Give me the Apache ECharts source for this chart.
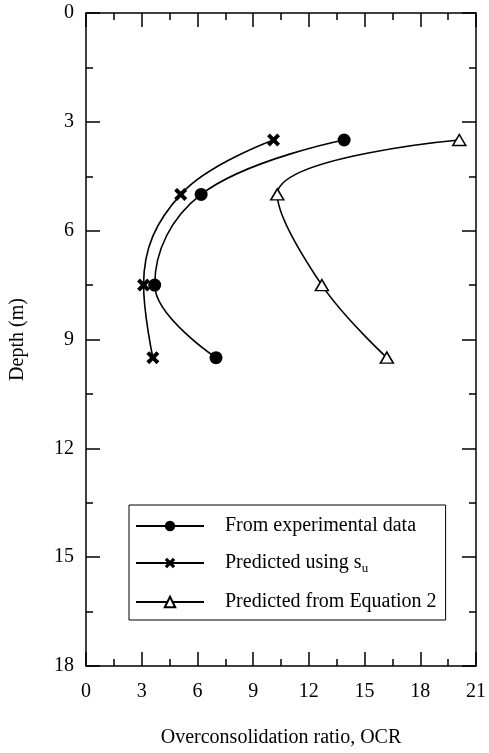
<!DOCTYPE html>
<html>
<head>
<meta charset="utf-8">
<script src="https://cdn.jsdelivr.net/npm/echarts@6/dist/echarts.min.js"></script>
<style>
html,body{margin:0;padding:0;background:#fff;}
#c{width:489px;height:753px;}
</style>
</head>
<body>
<div id="c"></div>
<script>
// Data
var depths = [3.5, 5, 7.5, 9.5];
var ocrExperimental = [13.9, 6.2, 3.7, 7.0];
var ocrSu = [10.1, 5.1, 3.1, 3.6];
var ocrEq2 = [20.1, 10.3, 12.7, 16.2];
var xTicks = [0, 3, 6, 9, 12, 15, 18, 21];
var yTicks = [0, 3, 6, 9, 12, 15, 18];
var seriesNames = ['From experimental data', 'Predicted using s_u', 'Predicted from Equation 2'];

function pairs(xs, ys) { return xs.map(function (x, i) { return [x, ys[i]]; }); }

var FONT = 'Liberation Serif';
var crossPath = 'path://M0,2.6 L2.6,0 L6,3.4 L9.4,0 L12,2.6 L8.6,6 L12,9.4 L9.4,12 L6,8.6 L2.6,12 L0,9.4 L3.4,6 Z';

function xAxisCfg(pos, labels) {
  return {
    type: 'value', position: pos, min: xTicks[0], max: xTicks[xTicks.length - 1], interval: 3,
    axisLine: { show: true, onZero: false, lineStyle: { color: '#000', width: 1.5 } },
    axisTick: { show: true, inside: true, length: 14, lineStyle: { color: '#000', width: 1.5 } },
    minorTick: { show: true, splitNumber: 2, length: 7, lineStyle: { color: '#000', width: 1.5 } },
    splitLine: { show: false },
    axisLabel: { show: labels, margin: 16, fontFamily: FONT, fontSize: 20, color: '#000' },
    name: labels ? 'Overconsolidation ratio, OCR' : '',
    nameLocation: 'middle', nameGap: 62,
    nameTextStyle: { fontFamily: FONT, fontSize: 20, color: '#000' }
  };
}
function yAxisCfg(pos, labels) {
  return {
    type: 'value', position: pos, inverse: true, min: yTicks[0], max: yTicks[yTicks.length - 1], interval: 3,
    axisLine: { show: true, onZero: false, lineStyle: { color: '#000', width: 1.5 } },
    axisTick: { show: true, inside: true, length: 14, lineStyle: { color: '#000', width: 1.5 } },
    minorTick: { show: true, splitNumber: 2, length: 7, lineStyle: { color: '#000', width: 1.5 } },
    splitLine: { show: false },
    axisLabel: { show: labels, margin: 12, fontFamily: FONT, fontSize: 20, color: '#000' },
    name: labels ? 'Depth (m)' : '',
    nameLocation: 'middle', nameGap: 58, nameRotate: 90,
    nameTextStyle: { fontFamily: FONT, fontSize: 20, color: '#000' }
  };
}

var chart = echarts.init(document.getElementById('c'), null, { renderer: 'canvas' });
chart.setOption({
  backgroundColor: '#fff',
  animation: false,
  grid: { left: 81, right: 8, top: 13, bottom: 76, containLabel: false },
  xAxis: [xAxisCfg('bottom', true), xAxisCfg('top', false)],
  yAxis: [yAxisCfg('left', true), yAxisCfg('right', false)],
  legend: {
    orient: 'vertical', left: 129, top: 505,
    borderColor: '#000', borderWidth: 1, padding: [11, 9, 8, 6],
    itemWidth: 68, itemHeight: 13, itemGap: 17,
    data: seriesNames,
    formatter: function (n) { return n === 'Predicted using s_u' ? 'Predicted using s{sub|u}' : n; },
    textStyle: {
      fontFamily: FONT, fontSize: 20, color: '#000', padding: [0, 0, 0, 16],
      rich: { sub: { fontFamily: FONT, fontSize: 13, color: '#000', padding: [11, 0, 0, 0] } }
    }
  },
  series: [
    {
      name: seriesNames[0], type: 'line', smooth: 0.4, data: pairs(ocrExperimental, depths),
      symbol: 'circle', symbolSize: 13,
      lineStyle: { color: '#000', width: 1.6 }, itemStyle: { color: '#000' }
    },
    {
      name: seriesNames[1], type: 'line', smooth: 0.4, data: pairs(ocrSu, depths),
      symbol: crossPath, symbolSize: 13,
      lineStyle: { color: '#000', width: 1.6 }, itemStyle: { color: '#000' }
    },
    {
      name: seriesNames[2], type: 'line', smooth: 0.4, data: pairs(ocrEq2, depths),
      symbol: 'triangle', symbolSize: [13, 11],
      lineStyle: { color: '#000', width: 1.6 }, itemStyle: { color: '#fff', borderColor: '#000', borderWidth: 1.5 }
    }
  ]
});
</script>
</body>
</html>
